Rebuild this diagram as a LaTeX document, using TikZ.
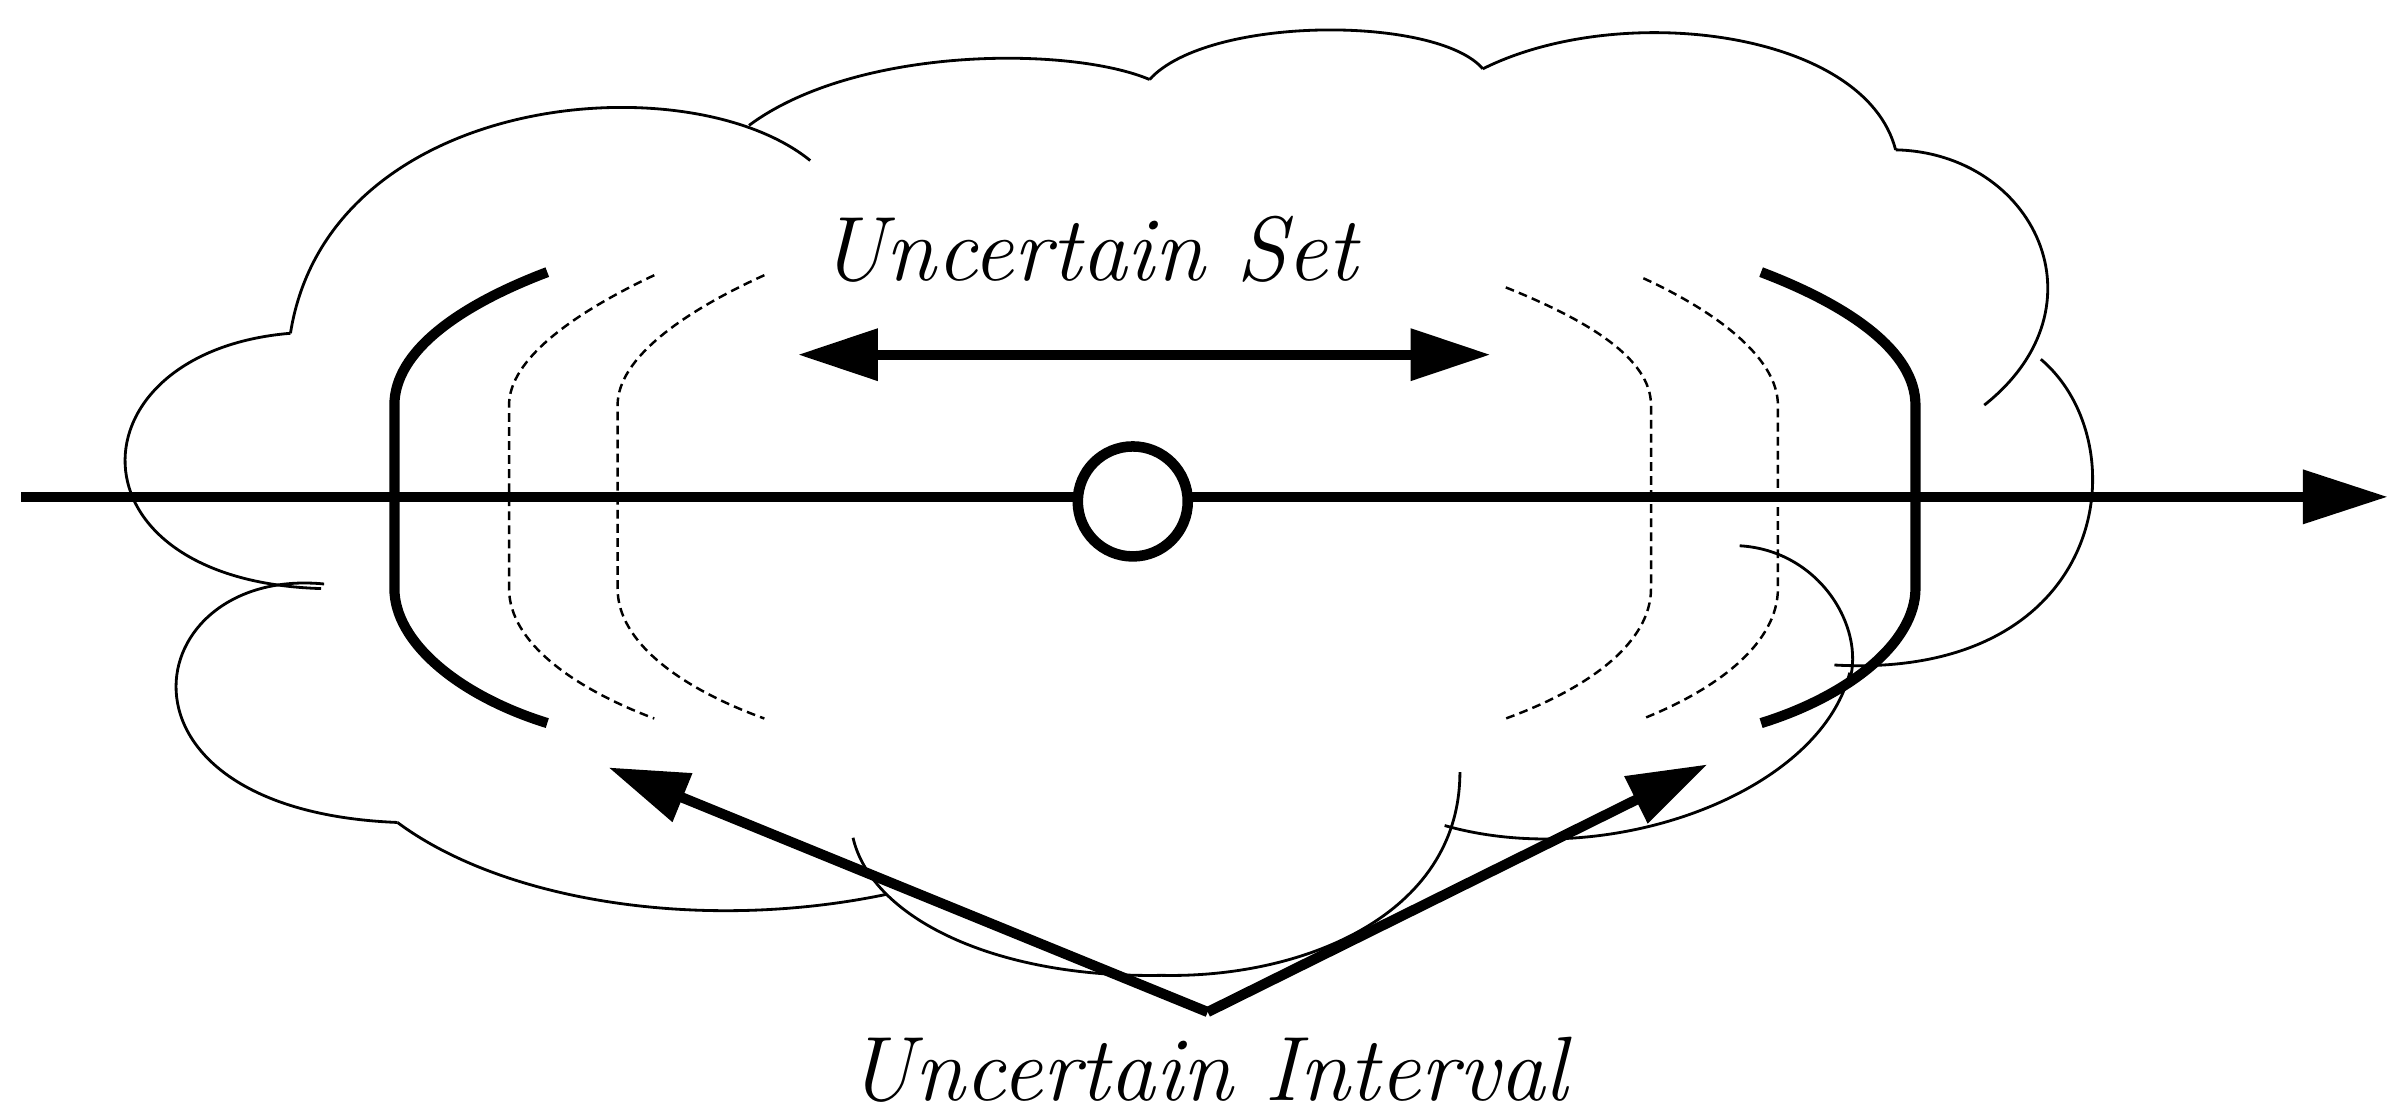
\documentclass[tikz,border=0pt]{standalone}
\usetikzlibrary{arrows.meta}
\tikzset{
  cloudline/.style={line width=0.8pt},
  bracket/.style={line width=2.9pt},
  dbracket/.style={line width=0.7pt, dash pattern=on 2.5pt off 1.5pt},
  bigarrow/.style={line width=2.9pt, -{Triangle[length=0.8cm,width=0.5cm]}},
  label/.style={font=\fontsize{26}{30}\selectfont\itshape}
}
\begin{document}
\begin{tikzpicture}[x=0.01529cm,y=-0.01529cm]
  \useasboundingbox (0,0) rectangle (1568,731);

  % cloud
  \draw[cloudline] (210,385) .. controls (40,380) and (45,230) .. (190,218);
  \draw[cloudline] (190,218) .. controls (215,60) and (450,40) .. (530,105);
  \draw[cloudline] (490,82) .. controls (560,30) and (700,30) .. (752,52);
  \draw[cloudline] (752,52) .. controls (790,10) and (940,10) .. (970,45);
  \draw[cloudline] (970,45) .. controls (1060,0) and (1220,20) .. (1240,98);
  \draw[cloudline] (1240,98) .. controls (1330,100) and (1380,200) .. (1298,265);
  \draw[cloudline] (1335,235) .. controls (1400,290) and (1380,445) .. (1200,435);
  \draw[cloudline] (1210,440) .. controls (1190,520) and (1050,570) .. (945,540);
  \draw[cloudline] (955,505) .. controls (955,600) and (850,640) .. (760,638)
                   .. controls (650,640) and (570,600) .. (558,548);
  \draw[cloudline] (580,585) .. controls (460,610) and (330,590) .. (260,538);
  \draw[cloudline] (212,382) .. controls (90,370) and (60,530) .. (260,538);
  \draw[cloudline] (1138,357) .. controls (1190,360) and (1220,410) .. (1210,445);

  % axis and centre
  \coordinate (axs) at (14,325);
  \coordinate (axe) at (1562,325);
  \draw[line width=2.9pt, -{Triangle[length=0.85cm,width=0.52cm]}] (axs) -- (axe);
  \node[circle, draw, fill=white, line width=3pt, minimum size=1.1cm] (c) at (741,328) {};

  % brackets
  \draw[bracket] (358,178) .. controls (300,200) and (258,230) .. (258,265) -- (258,385)
                 .. controls (258,420) and (300,455) .. (358,473);
  \draw[bracket] (1152,178) .. controls (1210,200) and (1253,230) .. (1253,265) -- (1253,385)
                 .. controls (1253,420) and (1210,455) .. (1152,473);
  \draw[dbracket] (428,180) .. controls (375,205) and (333,235) .. (333,265) -- (333,385)
                  .. controls (333,420) and (375,450) .. (428,470);
  \draw[dbracket] (500,180) .. controls (445,205) and (404,235) .. (404,265) -- (404,385)
                  .. controls (404,420) and (445,450) .. (500,470);
  \draw[dbracket] (985,188) .. controls (1040,210) and (1080,235) .. (1080,265) -- (1080,385)
                  .. controls (1080,420) and (1040,450) .. (985,470);
  \draw[dbracket] (1075,182) .. controls (1125,205) and (1163,235) .. (1163,265) -- (1163,385)
                  .. controls (1163,420) and (1125,450) .. (1075,470);

  % labels
  \node[label] (set) at (712,163) {Uncertain Set};
  \node[label] (int) at (790,700) {Uncertain Interval};

  % arrows
  \coordinate (sl) at (522,232);
  \coordinate (sr) at (975,232);
  \draw[line width=2.9pt, {Triangle[length=0.8cm,width=0.5cm]}-{Triangle[length=0.8cm,width=0.5cm]}] (sl) -- (sr);
  \coordinate (v) at (790,662);
  \coordinate (il) at (398,502);
  \coordinate (ir) at (1117,500);
  \draw[bigarrow] (v) -- (il);
  \draw[bigarrow] (v) -- (ir);
\end{tikzpicture}
\end{document}
